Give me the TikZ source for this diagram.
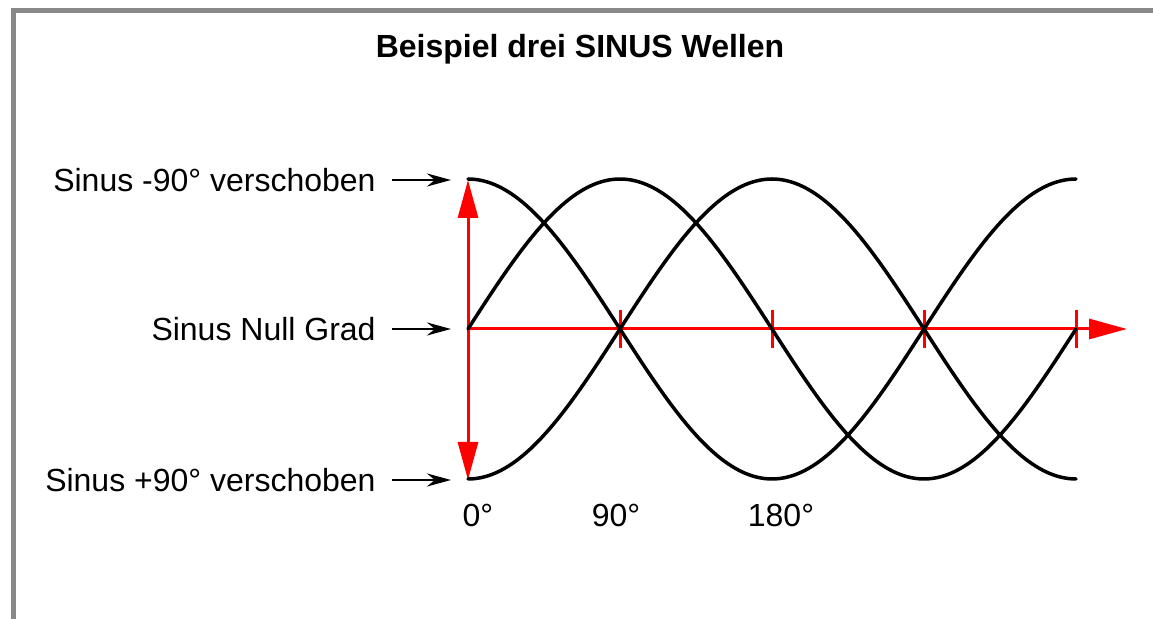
\documentclass[tikz,border=0pt]{standalone}
\usepackage{fontspec}
\setmainfont{Liberation Sans}
\usetikzlibrary{arrows.meta, positioning}
\definecolor{framegray}{RGB}{136,136,136}
\definecolor{axisred}{RGB}{255,0,0}

\begin{document}
\begin{tikzpicture}[
      x=0.5pt, y=-0.5pt,
      node distance  = 38pt,
      lbl/.style     = {inner xsep=8pt, inner ysep=0pt, font=\fontsize{16}{19}\selectfont},
      deg/.style     = {inner sep=0pt, anchor=base, font=\fontsize{16}{19}\selectfont},
      title/.style   = {inner sep=0pt, anchor=base, font=\fontsize{16}{19}\selectfont\bfseries},
      wave/.style    = {line width=1.75pt, black, line cap=round},
      redline/.style = {line width=1.5pt, axisred},
      redtip/.tip    = {Triangle[length=19pt, width=10pt]},
      pointer/.style = {-{Stealth[length=12pt, width=6.5pt]}, line width=1.2pt, shorten >=8.5pt}
    ]
    \useasboundingbox (0,0) rectangle (1153,619);

    % Frame
    \draw[framegray, line width=2.5pt] (13.5,630) -- (13.5,10.5) -- (1160,10.5);

    % Coordinates
    \coordinate (o)     at (468,329);
    \coordinate (top)   at (468,180);
    \coordinate (bot)   at (468,480);
    \coordinate (axend) at (1127,329);

    % Axes
    \draw[redline, redtip-redtip] (top) -- (bot);
    \draw[redline, -redtip] (o) -- (axend);
    \foreach \t in {1,...,4}
      \draw[redline] ([shift={(\t*152,-19)}]o) -- ++(0,38);

    % Waves
    \draw[wave] plot[domain=0:360, samples=91, smooth] ({468+\x/90*152}, {329-150*cos(\x)});
    \draw[wave] plot[domain=0:360, samples=91, smooth] ({468+\x/90*152}, {329+150*cos(\x)});
    \draw[wave] plot[domain=0:360, samples=91, smooth] ({468+\x/90*152}, {329-150*sin(\x)});

    % Labels
    \node[title] (head) at (580,58) {Beispiel drei SINUS Wellen};
    \node[lbl, left=of top] (lbltop) {Sinus -90° verschoben};
    \node[lbl, left=of o]   (lblmid) {Sinus Null Grad};
    \node[lbl, left=of bot] (lblbot) {Sinus +90° verschoben};
    \node[deg] (deg0)   at (478,527) {0°};
    \node[deg] (deg90)  at (616,527) {90°};
    \node[deg] (deg180) at (781,527) {180°};

    % Pointers
    \draw[pointer] (lbltop) -- (top);
    \draw[pointer] (lblmid) -- (o);
    \draw[pointer] (lblbot) -- (bot);

  \end{tikzpicture}
\end{document}
